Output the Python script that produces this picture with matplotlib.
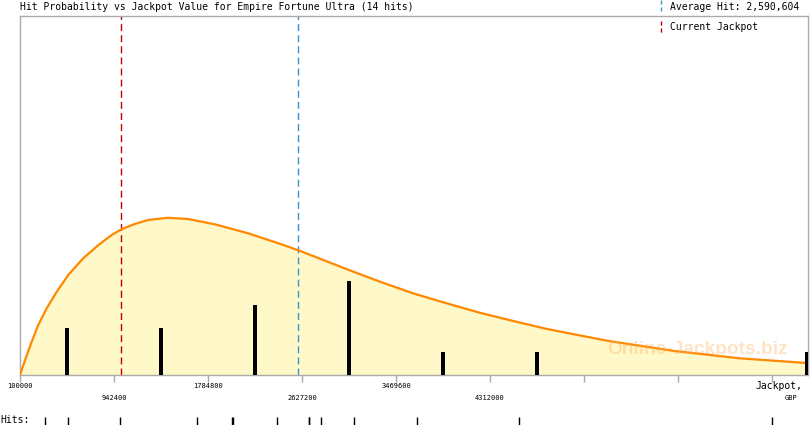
import matplotlib
matplotlib.use("Agg")
import matplotlib.pyplot as plt
from matplotlib.lines import Line2D
from matplotlib.transforms import blended_transform_factory

# --- data ---
curve_x = [100000, 151000, 205000, 264000, 339000, 429000, 533000, 667000,
           802000, 922000, 1011000, 1130000, 1250000, 1425000,
           1605000, 1850000, 2145000, 2445000, 2610000, 3030000, 3326000,
           3620000, 3924000, 4220000, 4518000, 4820000, 5360000, 5950000,
           6550000, 7120000, 7160000]
curve_y = [0.0, 0.71, 1.42, 2.13, 2.84, 3.54, 4.26, 4.97, 5.53, 5.96, 6.21,
           6.43, 6.60, 6.69, 6.64, 6.41, 6.03, 5.56, 5.28, 4.50, 3.97,
           3.48, 3.05, 2.65, 2.30, 1.96, 1.46, 1.03, 0.71, 0.52, 0.51]

bar_x = [521200, 1363600, 2206000, 3048400, 3890800, 4733200, 7150000]
bar_counts = [2, 2, 3, 4, 1, 1, 1]

hits = [324000, 530000, 996000, 1686000, 2000000, 2009000, 2403000,
        2690000, 2690000, 2797000, 3093000, 3658000, 4572000, 6839000]

tick_values = [100000, 942400, 1784800, 2627200, 3469600, 4312000,
               5154400, 5996800, 6839200]
tick_labels = ["100000", "942400", "1784800", "2627200", "3469600", "4312000"]

average_hit = 2590604
current_jackpot = 1005000
x_max = 7161000

W, H = 810, 425
GRAY = "#aaaaaa"
MONO = "DejaVu Sans Mono"

fig = plt.figure(figsize=(W / 100, H / 100), dpi=100)
ax = fig.add_axes([20 / W, 50 / H, 788 / W, 359 / H])

ax.fill_between(curve_x, curve_y, 0, color="#fff8c8", lw=0, zorder=1)
ax.plot(curve_x, curve_y, color="#ff8800", lw=1.6, zorder=3)
ax.bar(bar_x, bar_counts, width=36000, color="black", zorder=4)

ax.axvline(current_jackpot, color="#c00000", lw=1, ls=(0, (5, 3)), zorder=2)
ax.axvline(average_hit, color="#3d93c8", lw=1, ls=(0, (5, 3)), zorder=2)

ax.text(0.860, 0.072, "Online-Jackpots.biz", transform=ax.transAxes,
        ha="center", va="center", fontsize=13.8, fontweight="bold",
        family="Liberation Sans", color="#ffb060", alpha=0.35, zorder=5)

ax.set_xlim(100000, x_max)
ax.set_ylim(0, 15.28)
ax.set_yticks([])
ax.set_xticks(tick_values)
ax.set_xticklabels([])
ax.tick_params(axis="x", length=5, width=1, color=GRAY)
for s in ax.spines.values():
    s.set_color(GRAY)
    s.set_linewidth(1)

# alternating tick labels
tr = blended_transform_factory(ax.transData, fig.transFigure)
for i, (v, lab) in enumerate(zip(tick_values, tick_labels)):
    y = 386 if i % 2 == 0 else 397.5
    ax.text(v, 1 - y / H, lab, transform=tr, ha="center", va="center",
            fontsize=5, family=MONO, clip_on=False)
fig.text(802 / W, 1 - 386 / H, "Jackpot,", ha="right", va="center",
         fontsize=7, family=MONO)
fig.text(791 / W, 1 - 397.5 / H, "GBP", ha="center", va="center",
         fontsize=5, family=MONO)

# title and legend
fig.text(20 / W, 1 - 7 / H, "Hit Probability vs Jackpot Value for Empire Fortune Ultra (14 hits)",
         ha="left", va="center", fontsize=7, family=MONO)
fig.add_artist(Line2D([661 / W, 661 / W], [1 - 0 / H, 1 - 11 / H],
                      color="#3d93c8", lw=1, ls=(0, (3, 2))))
fig.text(670 / W, 1 - 7 / H, "Average Hit: 2,590,604", ha="left",
         va="center", fontsize=7, family=MONO)
fig.add_artist(Line2D([661 / W, 661 / W], [1 - 21 / H, 1 - 33 / H],
                      color="#c00000", lw=1, ls=(0, (3, 2))))
fig.text(670 / W, 1 - 27 / H, "Current Jackpot", ha="left",
         va="center", fontsize=7, family=MONO)

# rug of hits
rug = fig.add_axes([20 / W, 0, 788 / W, 8 / H])
rug.vlines(hits, 0, 1, color="black", lw=1)
rug.set_xlim(100000, x_max)
rug.set_ylim(0, 1)
rug.axis("off")
fig.text(0, 1 - 420 / H, "Hits:", ha="left", va="center", fontsize=7,
         family=MONO)

fig.savefig("out.png", dpi=100)
